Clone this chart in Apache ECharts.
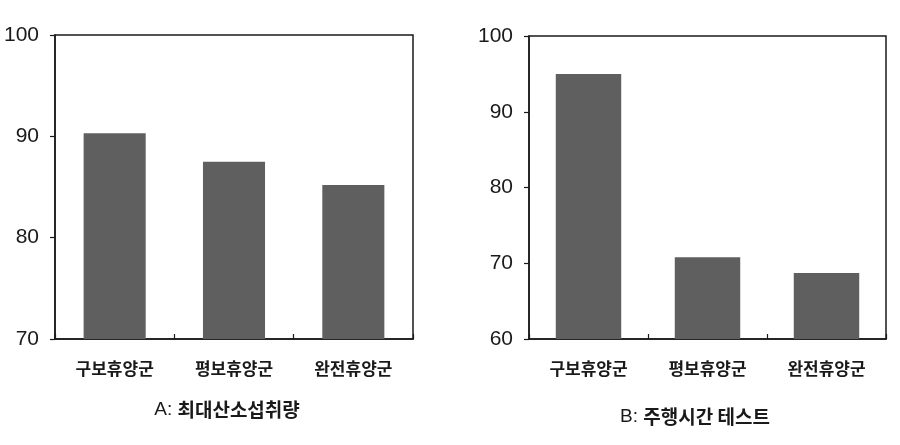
<!DOCTYPE html>
<html><head><meta charset="utf-8">
<script src="https://cdn.jsdelivr.net/npm/echarts@6/dist/echarts.min.js"></script>
<style>html,body{margin:0;padding:0;background:#fff}#c{width:900px;height:445px}</style>
</head><body><div id="c"></div>
<script>
const categories = ['구보휴양군', '평보휴양군', '완전휴양군'];
const valuesA = [90.3, 87.5, 85.2];
const valuesB = [95.0, 70.8, 68.7];
const ticksA = [70, 80, 90, 100];
const ticksB = [60, 70, 80, 90, 100];
const titleA = ['A: ', '최대산소섭취량'];
const titleB = ['B: ', '주행시간 테스트'];

const chart = echarts.init(document.getElementById('c'));
const axisCol = '#1a1a1a';
const barCol = '#5f5f5f';
const cjk = '"Noto Sans CJK KR", sans-serif';
const lat = '"Liberation Sans", Arial, sans-serif';

function xAxis(idx) {
  return {
    type: 'category', gridIndex: idx, data: categories,
    axisLine: { show: true, lineStyle: { color: axisCol, width: 1.5 } },
    axisTick: { show: true, inside: true, length: 5, alignWithLabel: false, lineStyle: { color: axisCol, width: 1.2 } },
    axisLabel: { fontFamily: cjk, fontSize: 17, fontWeight: 'bold', color: '#1a1a1a', margin: 21 }
  };
}
function yAxis(idx, ticks, margin) {
  return {
    type: 'value', gridIndex: idx, min: ticks[0], max: ticks[ticks.length - 1], interval: 10,
    axisLine: { show: true, lineStyle: { color: axisCol, width: 1.5 } },
    axisTick: { show: true, length: 5, lineStyle: { color: axisCol, width: 1.2 } },
    splitLine: { show: false },
    axisLabel: { fontFamily: lat, fontSize: 21, color: '#1a1a1a', margin: margin }
  };
}
function title(t, x, y) {
  return {
    text: '{a|' + t[0] + '}{b|' + t[1] + '}', left: x, top: y, textAlign: 'center',
    textStyle: { fontWeight: 'normal', rich: {
      a: { fontFamily: lat, fontSize: 19, fontWeight: 'normal', color: '#1a1a1a' },
      b: { fontFamily: cjk, fontSize: 19, fontWeight: 'bold', color: '#1a1a1a' }
    } }
  };
}

chart.setOption({
  animation: false,
  title: [title(titleA, 222, 395), title(titleB, 690, 402)],
  grid: [
    { left: 55, top: 35, width: 358, height: 304, show: true, borderColor: axisCol, borderWidth: 1.5, backgroundColor: 'transparent' },
    { left: 529, top: 36, width: 357, height: 303, show: true, borderColor: axisCol, borderWidth: 1.5, backgroundColor: 'transparent' }
  ],
  xAxis: [xAxis(0), xAxis(1)],
  yAxis: [yAxis(0, ticksA, 16), yAxis(1, ticksB, 16)],
  series: [
    { type: 'bar', xAxisIndex: 0, yAxisIndex: 0, data: valuesA, barWidth: '52%', itemStyle: { color: barCol } },
    { type: 'bar', xAxisIndex: 1, yAxisIndex: 1, data: valuesB, barWidth: '55%', itemStyle: { color: barCol } }
  ]
});
</script></body></html>
